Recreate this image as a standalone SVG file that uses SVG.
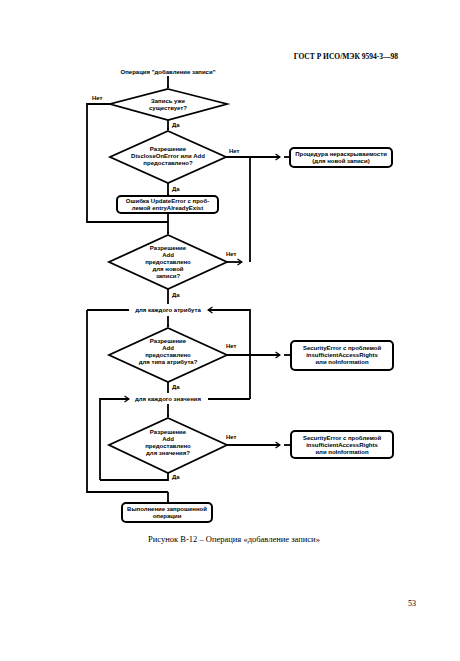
<svg xmlns="http://www.w3.org/2000/svg" width="460" height="661" viewBox="0 0 460 661">
<defs>
<marker id="ah" viewBox="0 0 6 6" refX="5" refY="3" markerWidth="3" markerHeight="3" orient="auto" markerUnits="userSpaceOnUse">
<path d="M0,0 L6,3 L0,6 z" fill="#000"/>
</marker>
<marker id="chev" viewBox="0 0 8 10" refX="7" refY="5" markerWidth="6" markerHeight="8" orient="auto" markerUnits="userSpaceOnUse">
<path d="M1,1 L7,5 L1,9" fill="none" stroke="#000" stroke-width="1.6"/>
</marker>
</defs>
<style>
.ln{fill:none;stroke:#000;stroke-width:1.8}
.dm{fill:#fff;stroke:#000;stroke-width:1.8}
.bx{fill:#fff;stroke:#000;stroke-width:2}
.t{font-family:"Liberation Sans",Arial,sans-serif;font-size:6px;font-weight:bold;text-anchor:middle;fill:#000}
.l{font-family:"Liberation Sans",Arial,sans-serif;font-size:6px;font-weight:bold;fill:#000}
.s{font-family:"Liberation Serif","Times New Roman",serif;fill:#000}
</style>
<rect width="460" height="661" fill="#fff"/>
<text class="s" x="398" y="59" font-size="7.5" font-weight="bold" text-anchor="end">ГОСТ Р ИСО/МЭК 9594-3—98</text>

<g id="connectors">
<line class="ln" x1="168" y1="76" x2="168" y2="88" marker-end="url(#ah)"/>
<line class="ln" x1="168" y1="120" x2="168" y2="130" marker-end="url(#ah)"/>
<polyline class="ln" points="110,104 87,104 87,222 168,222"/>
<line class="ln" x1="168" y1="183" x2="168" y2="196" marker-end="url(#ah)"/>
<line class="ln" x1="168" y1="213" x2="168" y2="234" marker-end="url(#ah)"/>
<line class="ln" x1="226" y1="157" x2="280" y2="157" marker-end="url(#chev)"/>
<line class="ln" x1="284" y1="157" x2="290" y2="157"/>
<line class="ln" x1="250" y1="157" x2="250" y2="262"/>
<line class="ln" x1="227" y1="262" x2="242" y2="262" marker-end="url(#chev)"/>
<line class="ln" x1="168" y1="289" x2="168" y2="304"/>
<line class="ln" x1="87" y1="310" x2="129" y2="310"/>
<polyline class="ln" points="250,399 250,310 208,310" marker-end="url(#chev)"/>
<polyline class="ln" points="87,310 87,492 168,492"/>
<line class="ln" x1="168" y1="316" x2="168" y2="327" marker-end="url(#ah)"/>
<line class="ln" x1="227" y1="355" x2="280" y2="355" marker-end="url(#chev)"/>
<line class="ln" x1="284" y1="355" x2="291" y2="355"/>
<line class="ln" x1="168" y1="382" x2="168" y2="393"/>
<polyline class="ln" points="100,480 100,399 129,399" marker-end="url(#chev)"/>
<line class="ln" x1="208" y1="399" x2="250" y2="399"/>
<line class="ln" x1="168" y1="404" x2="168" y2="417" marker-end="url(#ah)"/>
<line class="ln" x1="227" y1="445" x2="280" y2="445" marker-end="url(#chev)"/>
<line class="ln" x1="284" y1="445" x2="291" y2="445"/>
<polyline class="ln" points="168,473 168,480 100,480"/>
<line class="ln" x1="168" y1="492" x2="168" y2="502" marker-end="url(#ah)"/>
</g>

<g id="title"><text class="t" x="168" y="74">Операция "добавление записи"</text></g>

<g id="d1">
<polygon class="dm" points="168,89 227,104 168,120 110,104"/>
<text class="t" x="168" y="103">Запись уже</text>
<text class="t" x="168" y="110">существует?</text>
</g>
<g id="lbl1"><text class="l" x="92" y="100">Нет</text><text class="l" x="172" y="127">Да</text></g>

<g id="d2">
<polygon class="dm" points="168,131 226,157 168,183 110,157"/>
<text class="t" x="168" y="151">Разрешение</text>
<text class="t" x="168" y="158">DiscloseOnError или Add</text>
<text class="t" x="168" y="165">предоставлено?</text>
</g>
<g id="lbl2"><text class="l" x="229" y="153">Нет</text><text class="l" x="172" y="191">Да</text></g>

<g id="b-disclose">
<rect class="bx" x="290" y="148" width="102" height="19" rx="4"/>
<text class="t" x="341" y="156">Процедура нераскрываемости</text>
<text class="t" x="341" y="163">(для новой записи)</text>
</g>

<g id="b-update">
<rect class="bx" x="117" y="196" width="101" height="17" rx="4"/>
<text class="t" x="167.500" y="203">Ошибка UpdateError с проб-</text>
<text class="t" x="167.500" y="210">лемой entryAlreadyExist</text>
</g>

<g id="d3">
<polygon class="dm" points="168,235 227,262 168,289 109,262"/>
<text class="t" x="168" y="250">Разрешение</text>
<text class="t" x="168" y="257">Add</text>
<text class="t" x="168" y="264">предоставлено</text>
<text class="t" x="168" y="271">для новой</text>
<text class="t" x="168" y="278">записи?</text>
</g>
<g id="lbl3"><text class="l" x="226" y="256">Нет</text><text class="l" x="172" y="297">Да</text></g>

<g id="loop1"><text class="t" x="168" y="312">для каждого атрибута</text></g>

<g id="d4">
<polygon class="dm" points="168,328 227,355 168,382 109,355"/>
<text class="t" x="168" y="343">Разрешение</text>
<text class="t" x="168" y="350">Add</text>
<text class="t" x="168" y="357">предоставлено</text>
<text class="t" x="168" y="364">для типа атрибута?</text>
</g>
<g id="lbl4"><text class="l" x="226" y="348">Нет</text><text class="l" x="172" y="389">Да</text></g>

<g id="b-sec1">
<rect class="bx" x="291" y="341" width="102" height="29" rx="4"/>
<text class="t" x="342" y="350">SecurityError с проблемой</text>
<text class="t" x="342" y="357">insufficientAccessRights</text>
<text class="t" x="342" y="364">или noInformation</text>
</g>

<g id="loop2"><text class="t" x="168" y="401">для каждого значения</text></g>

<g id="d5">
<polygon class="dm" points="168,418 227,445 168,473 109,445"/>
<text class="t" x="168" y="434">Разрешение</text>
<text class="t" x="168" y="441">Add</text>
<text class="t" x="168" y="448">предоставлено</text>
<text class="t" x="168" y="455">для значения?</text>
</g>
<g id="lbl5"><text class="l" x="226" y="439">Нет</text><text class="l" x="172" y="479">Да</text></g>

<g id="b-sec2">
<rect class="bx" x="291" y="431" width="102" height="27" rx="4"/>
<text class="t" x="342" y="440">SecurityError с проблемой</text>
<text class="t" x="342" y="447">insufficientAccessRights</text>
<text class="t" x="342" y="454">или noInformation</text>
</g>

<g id="b-exec">
<rect class="bx" x="122" y="503" width="90" height="19" rx="4"/>
<text class="t" x="167" y="511">Выполнение запрошенной</text>
<text class="t" x="167" y="518">операции</text>
</g>

<text class="s" x="234" y="542" font-size="8.5" text-anchor="middle">Рисунок В-12 – Операция «добавление записи»</text>
<text class="s" x="412" y="606" font-size="8" text-anchor="middle">53</text>
</svg>
